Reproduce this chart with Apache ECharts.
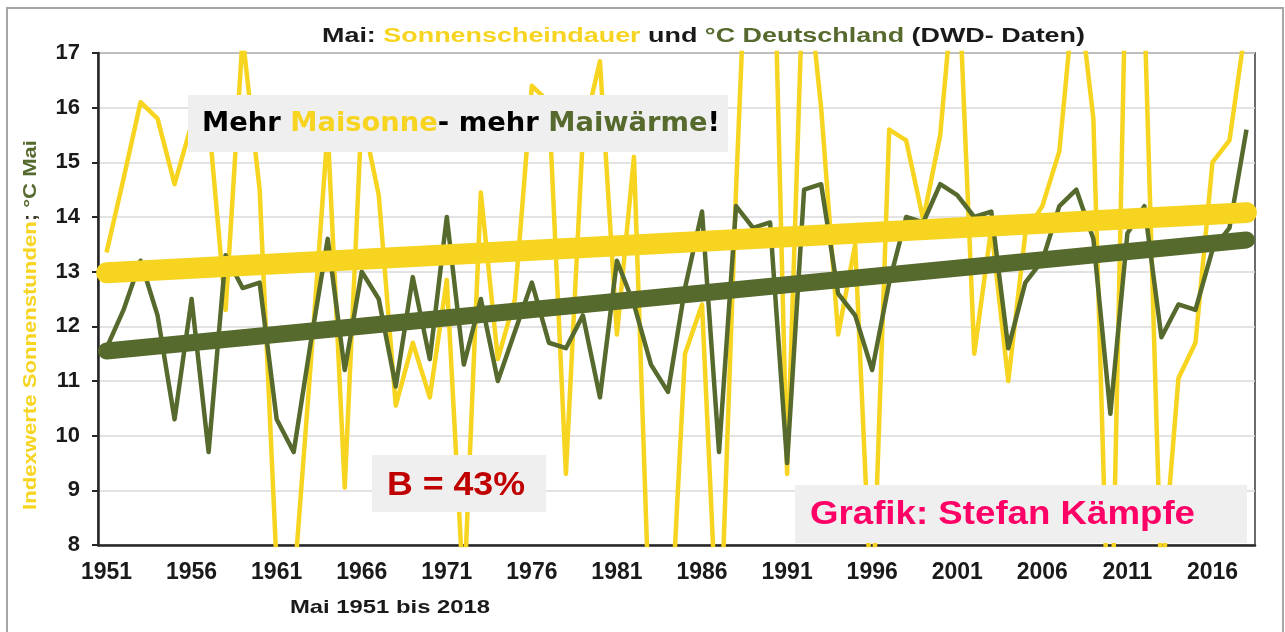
<!DOCTYPE html>
<html>
<head>
<meta charset="utf-8">
<script src="https://cdn.jsdelivr.net/npm/echarts@6/dist/echarts.min.js"></script>
<style>
  html, body { margin: 0; background: #fff; }
  #chart { width: 1285px; height: 632px; }
</style>
</head>
<body>
<div id="chart"></div>
<script>
// Mai 1951 - 2018
const years = Array.from({ length: 68 }, (_, i) => String(1951 + i))

// Indexwerte Sonnenstunden (gekappt oben bei 17, unten bei 8)
const sunshine = [
  13.35, 14.7, 16.1, 15.8, 14.6, 15.7, 15.8, 12.3, 17.3, 14.5,
  7.6, 7.2, 11.3, 15.6, 9.05, 15.9, 14.4, 10.55, 11.7, 10.7,
  12.85, 7.0, 14.45, 11.4, 12.5, 16.4, 16.1, 9.3, 15.5, 16.85,
  11.85, 15.1, 5.8, 5.5, 11.5, 12.4, 5.6, 14.5, 22, 22,
  9.3, 19, 16.0, 11.85, 13.5, 6.5, 15.6, 15.4, 13.95, 15.5,
  19, 11.5, 13.8, 11.0, 13.7, 14.2, 15.2, 18.5, 15.8, 5.0,
  20, 17.8, 7.2, 11.05, 11.7, 15.0, 15.4, 17.6
]

// Mitteltemperatur Mai in °C
const temperature = [
  11.6, 12.3, 13.2, 12.2, 10.3, 12.5, 9.7, 13.3, 12.7, 12.8,
  10.3, 9.7, 11.7, 13.6, 11.2, 13.0, 12.5, 10.9, 12.9, 11.4,
  14.0, 11.3, 12.5, 11.0, 11.9, 12.8, 11.7, 11.6, 12.2, 10.7,
  13.2, 12.4, 11.3, 10.8, 12.7, 14.1, 9.7, 14.2, 13.8, 13.9,
  9.5, 14.5, 14.6, 12.6, 12.2, 11.2, 12.8, 14.0, 13.9, 14.6,
  14.4, 14.0, 14.1, 11.6, 12.8, 13.2, 14.2, 14.5, 13.6, 10.4,
  13.7, 14.2, 11.8, 12.4, 12.3, 13.4, 13.8, 15.6
]

// Trendlinien: Wert 1951 und Wert 2018
const sunTrend = [12.98, 14.08]
const tempTrend = [11.55, 13.58]

const yellow = "#f6d420"
const green = "#566a2e"
const dark = "#1a1a1a"

function trendLine(ends) {
  const d = years.map(() => null)
  d[0] = ends[0]
  d[d.length - 1] = ends[1]
  return d
}

// text in the picture is wider than the plain font, so stretch it to the measured width
const ctx = document.createElement("canvas").getContext("2d")
function stretch(text, font, width) {
  ctx.font = font
  return width / ctx.measureText(text).width
}

function label(opts) {
  const plain = opts.text.replace(/\{\w+\|([^}]*)\}/g, "$1")
  const rich = {}
  for (const k in opts.colors) rich[k] = { fill: opts.colors[k], font: opts.font }
  return {
    type: "text",
    x: opts.x,
    y: opts.y,
    rotation: opts.rotation || 0,
    scaleX: stretch(plain, opts.font, opts.width),
    z: 100,
    style: {
      x: 0, y: 0,
      text: opts.text,
      font: opts.font,
      fill: dark,
      rich: rich,
      align: opts.align || "left",
      verticalAlign: "middle"
    }
  }
}

function box(x, y, w, h) {
  return { type: "rect", z: 99, shape: { x: x, y: y, width: w, height: h }, style: { fill: "#efefef" } }
}

const arial = '"Liberation Sans", Arial, sans-serif'

let myChart = echarts.init(document.getElementById("chart"))
myChart.setOption({
  animation: false,
  backgroundColor: "#fff",
  grid: {
    left: 98, right: 30, top: 53, bottom: 87,
    show: true, borderColor: "#6b6b6b", borderWidth: 2
  },
  xAxis: {
    type: "category",
    data: years,
    boundaryGap: true,
    axisLine: { lineStyle: { color: "#262626", width: 2.5 } },
    axisTick: { interval: 4, length: 7, lineStyle: { color: "#262626", width: 2 } },
    axisLabel: { interval: 4, color: dark, fontWeight: "bold", fontSize: 23, fontFamily: arial, margin: 16 },
    splitLine: { show: false }
  },
  yAxis: {
    type: "value",
    min: 8, max: 17, interval: 1,
    axisLine: { show: true, lineStyle: { color: "#262626", width: 2.5 } },
    axisTick: { show: true, length: 6, lineStyle: { color: "#262626", width: 2 } },
    axisLabel: { color: dark, fontWeight: "bold", fontSize: 22, fontFamily: arial, margin: 18 },
    splitLine: { lineStyle: { color: "#dadada", width: 1.5 } }
  },
  series: [
    {
      name: "Sonnenscheindauer",
      type: "line",
      data: sunshine,
      symbol: "none",
      lineStyle: { color: yellow, width: 4.5, join: "round" },
      itemStyle: { color: yellow },
      z: 2
    },
    {
      name: "Temperatur",
      type: "line",
      data: temperature,
      symbol: "none",
      lineStyle: { color: green, width: 4.5, join: "round" },
      itemStyle: { color: green },
      z: 3
    },
    {
      name: "Trend Sonne",
      type: "line",
      data: trendLine(sunTrend),
      connectNulls: true,
      symbol: "none",
      lineStyle: { color: yellow, width: 21, cap: "round" },
      z: 4
    },
    {
      name: "Trend Temperatur",
      type: "line",
      data: trendLine(tempTrend),
      connectNulls: true,
      symbol: "none",
      lineStyle: { color: green, width: 17, cap: "round" },
      z: 5
    }
  ],
  graphic: [
    { type: "rect", z: 98, shape: { x: 7, y: 8, width: 1276, height: 640 }, style: { fill: "none", stroke: "#a6a6a6", lineWidth: 2 } },
    label({
      text: "{k|Mai: }{y|Sonnenscheindauer}{k| und }{g|°C Deutschland}{k| (DWD- Daten)}",
      colors: { k: dark, y: yellow, g: green },
      font: "bold 20px " + arial,
      x: 322, y: 36, width: 763
    }),
    box(188, 95, 540, 57),
    label({
      text: "{k|Mehr }{y|Maisonne}{k|- mehr }{g|Maiwärme}{k|!}",
      colors: { k: "#000", y: yellow, g: green },
      font: 'bold 26px "DejaVu Sans", sans-serif',
      x: 202, y: 124.5, width: 518
    }),
    box(372, 455, 174, 57),
    label({
      text: "{r|B = 43%}",
      colors: { r: "#c00000" },
      font: "bold 34px " + arial,
      x: 387, y: 486, width: 138
    }),
    box(795, 485, 452, 58),
    label({
      text: "{p|Grafik: Stefan Kämpfe}",
      colors: { p: "#ff0066" },
      font: "bold 34px " + arial,
      x: 810, y: 515, width: 385
    }),
    label({
      text: "{y|Indexwerte Sonnenstunden}{k|; }{g|°C Mai}",
      colors: { y: yellow, k: "#3a3a2a", g: green },
      font: "bold 18px " + arial,
      x: 31, y: 325, width: 370, rotation: Math.PI / 2, align: "center"
    }),
    label({
      text: "{k|Mai 1951 bis 2018}",
      colors: { k: dark },
      font: "bold 19px " + arial,
      x: 290, y: 607.5, width: 200
    })
  ]
})
</script>
</body>
</html>
